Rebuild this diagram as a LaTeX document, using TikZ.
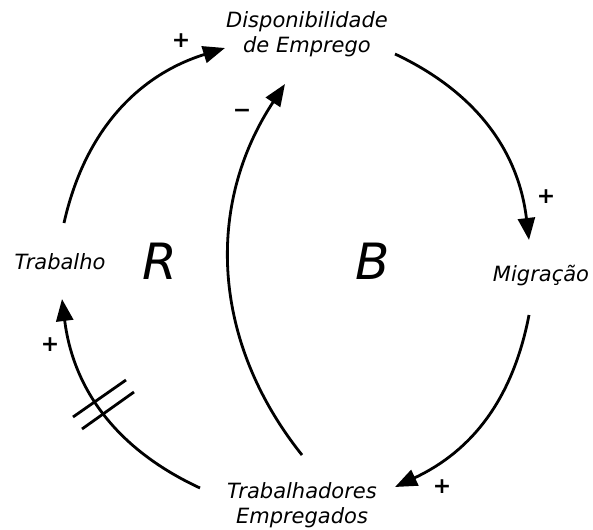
\documentclass[tikz,border=0pt]{standalone}
\usepackage{fontspec}
\setmainfont{DejaVu Sans}
\usetikzlibrary{arrows.meta}
\begin{document}
\begin{tikzpicture}[x=1pt,y=-1pt,
  lbl/.style={font=\fontsize{21}{25}\selectfont\itshape, align=center, inner sep=0pt},
  loopname/.style={font=\fontsize{50}{56}\selectfont\itshape, inner sep=0pt, anchor=base},
  sgn/.style={font=\fontsize{22}{24}\selectfont\bfseries, inner sep=0pt},
  link/.style={line width=2.8pt, -{Triangle[length=22pt,width=17pt]}},
  hash/.style={line width=2.8pt}]
\useasboundingbox (0,0) rectangle (593,529);
% variables
\node[lbl] (disp) at (307,34) {Disponibilidade\\de Emprego};
\node[lbl, anchor=base] (trab) at (60,269) {Trabalho};
\node[lbl, anchor=base] (migr) at (541,281) {Migração};
\node[lbl] (temp) at (302,505) {Trabalhadores\\Empregados};
% loop labels
\node[loopname] (R) at (160,279) {R};
\node[loopname] (B) at (373,279) {B};
% connector end points
\coordinate (a1) at (64,223);  \coordinate (a2) at (225,48);
\coordinate (b1) at (395,54);  \coordinate (b2) at (529,240);
\coordinate (c1) at (529,315); \coordinate (c2) at (395,487);
\coordinate (d1) at (200,488); \coordinate (d2) at (62,299);
\coordinate (e1) at (302,455); \coordinate (e2) at (285,84);
% connectors
\draw[link] (a1) to[bend left=30] (a2);
\draw[link] (b1) to[bend left=29] (b2);
\draw[link] (c1) to[bend left=27] (c2);
\draw[link] (d1) to[bend left=29] (d2);
\draw[link] (e1) to[bend left=36] (e2);
% delay marks
\coordinate (h1a) at (73,417);  \coordinate (h1b) at (126,380);
\coordinate (h2a) at (82,429);  \coordinate (h2b) at (134,392);
\draw[hash] (h1a) -- (h1b);
\draw[hash] (h2a) -- (h2b);
% polarity signs
\node[sgn] (p1) at (181,41) {+};
\node[sgn] (p2) at (546,197) {+};
\node[sgn] (p3) at (442,487) {+};
\node[sgn] (p4) at (50,345) {+};
\node[sgn] (m1) at (242,113) {−};
\end{tikzpicture}
\end{document}
